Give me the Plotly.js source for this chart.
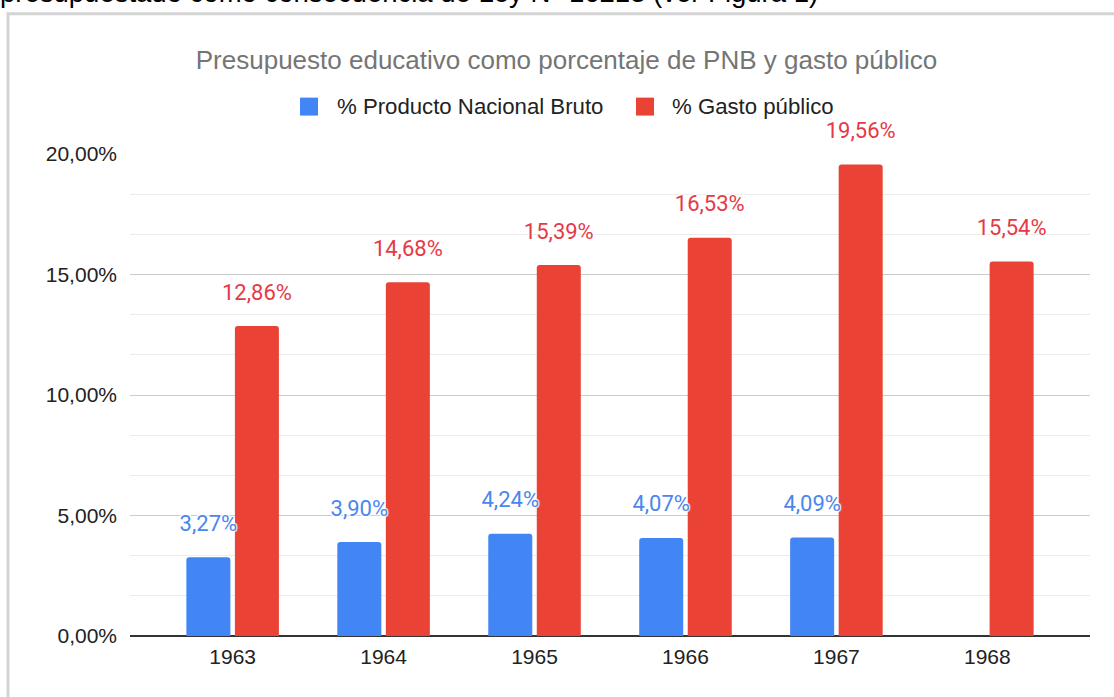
<!DOCTYPE html>
<html>
<head>
<meta charset="utf-8">
<script src="https://cdn.plot.ly/plotly-3.0.1.min.js"></script>
<style>
  html, body { margin: 0; padding: 0; background: #ffffff; }
  #chart { width: 1114px; height: 697px; }
</style>
</head>
<body>
<div id="chart"></div>
<script>
// ---- data ----
const years = ['1963', '1964', '1965', '1966', '1967', '1968'];
const pnb = [3.27, 3.90, 4.24, 4.07, 4.09, null];
const gasto = [12.86, 14.68, 15.39, 16.53, 19.56, 15.54];
const seriesNames = ['% Producto Nacional Bruto', '% Gasto público'];
const yTicks = [0, 5, 10, 15, 20];
const titleText = 'Presupuesto educativo como porcentaje de PNB y gasto público';
const topText = 'presupuestado como consecuencia de Ley N° 16213 (ver Figura 1)';

// ---- style ----
const BLUE = '#4285F4';
const RED = '#EA4335';
const BLUE_LBL = '#4a86ee';
const RED_LBL = '#e63946';
const W = 1114, H = 697;
const M = { l: 130, r: 24, t: 153.5, b: 60.5 };
const PW = W - M.l - M.r, PH = H - M.t - M.b;
const px2x = px => (px - M.l) / PW;
const px2y = py => (H - M.b - py) / PH;
const PCT = String.fromCharCode(37);

function fmt(v) { return v == null ? '' : v.toFixed(2).replace('.', ',') + PCT; }

const halo = '1px 1px 1px #fff, -1px -1px 1px #fff, 1px -1px 1px #fff, -1px 1px 1px #fff';
const lblFont = c => ({ family: 'Roboto, Arial, sans-serif', size: 22, color: c, shadow: halo });

const traces = [
  { type: 'bar', name: seriesNames[0], x: years, y: pnb, marker: { color: BLUE },
    offsetgroup: 'a', alignmentgroup: 'g', hoverinfo: 'skip', showlegend: false },
  { type: 'bar', name: seriesNames[1], x: years, y: gasto, marker: { color: RED },
    offsetgroup: 'b', alignmentgroup: 'g', hoverinfo: 'skip', showlegend: false },
  { type: 'scatter', mode: 'markers+text', x: years, y: pnb, text: pnb.map(fmt),
    textposition: 'top center', textfont: lblFont(BLUE_LBL),
    marker: { size: 32, color: 'rgba(0,0,0,0)' }, cliponaxis: false,
    offsetgroup: 'a', alignmentgroup: 'g', hoverinfo: 'skip', showlegend: false },
  { type: 'scatter', mode: 'markers+text', x: years, y: gasto, text: gasto.map(fmt),
    textposition: 'top center', textfont: lblFont(RED_LBL),
    marker: { size: 32, color: 'rgba(0,0,0,0)' }, cliponaxis: false,
    offsetgroup: 'b', alignmentgroup: 'g', hoverinfo: 'skip', showlegend: false }
];

const annotations = [];
// cropped page text above the chart frame
annotations.push({
  xref: 'paper', yref: 'paper', x: px2x(-2), y: px2y(9), xanchor: 'left', yanchor: 'bottom',
  text: topText, showarrow: false,
  font: { family: 'Liberation Sans, Arial, sans-serif', size: 27.5, color: '#000' }
});
// legend (custom, to match the square size)
const legendItems = [
  { name: seriesNames[0], color: BLUE, sq: 300, tx: 335 },
  { name: seriesNames[1], color: RED, sq: 636, tx: 670 }
];
const shapes = [{
  type: 'rect', xref: 'paper', yref: 'paper', layer: 'below',
  x0: px2x(8), x1: px2x(1130), y0: px2y(720), y1: px2y(13),
  line: { color: '#d4d4d4', width: 3 }, fillcolor: 'rgba(0,0,0,0)'
}];
legendItems.forEach(it => {
  shapes.push({
    type: 'rect', xref: 'paper', yref: 'paper',
    x0: px2x(it.sq), x1: px2x(it.sq + 18), y0: px2y(115), y1: px2y(97),
    line: { width: 0 }, fillcolor: it.color
  });
  annotations.push({
    xref: 'paper', yref: 'paper', x: px2x(it.tx), y: px2y(106), xanchor: 'left', yanchor: 'middle',
    text: it.name, showarrow: false,
    font: { family: 'Liberation Sans, Arial, sans-serif', size: 22.2, color: '#222' }
  });
});

const layout = {
  width: W, height: H,
  margin: M,
  paper_bgcolor: '#fff', plot_bgcolor: '#fff',
  separators: ',.',
  barmode: 'group', bargap: 0.357, bargroupgap: 0.093, barcornerradius: 3,
  scattermode: 'group', scattergap: 0.357,
  font: { family: 'Liberation Sans, Arial, sans-serif', size: 21, color: '#222' },
  title: {
    text: titleText, xref: 'container', yref: 'container',
    x: 566.5 / W, y: 1 - 60 / H, xanchor: 'center', yanchor: 'middle',
    font: { family: 'Liberation Sans, Arial, sans-serif', size: 26, color: '#757575' }
  },
  showlegend: false,
  xaxis: {
    type: 'category', range: [-0.68, 5.68], showgrid: false, zeroline: false,
    showline: false, ticks: '', ticklabelstandoff: 6, fixedrange: true
  },
  yaxis: {
    range: [0, 20], tickvals: yTicks, ticktext: yTicks.map(fmt),
    showgrid: true, gridcolor: '#cccccc', gridwidth: 1,
    zeroline: true, zerolinecolor: '#333333', zerolinewidth: 2,
    showline: false, ticks: '', ticklabelstandoff: 12, fixedrange: true,
    minor: { dtick: 5 / 3, tick0: 0, showgrid: true, gridcolor: '#ececec', gridwidth: 1 }
  },
  annotations: annotations,
  shapes: shapes
};

Plotly.newPlot('chart', traces, layout, { displayModeBar: false, staticPlot: true });
</script>
</body>
</html>
